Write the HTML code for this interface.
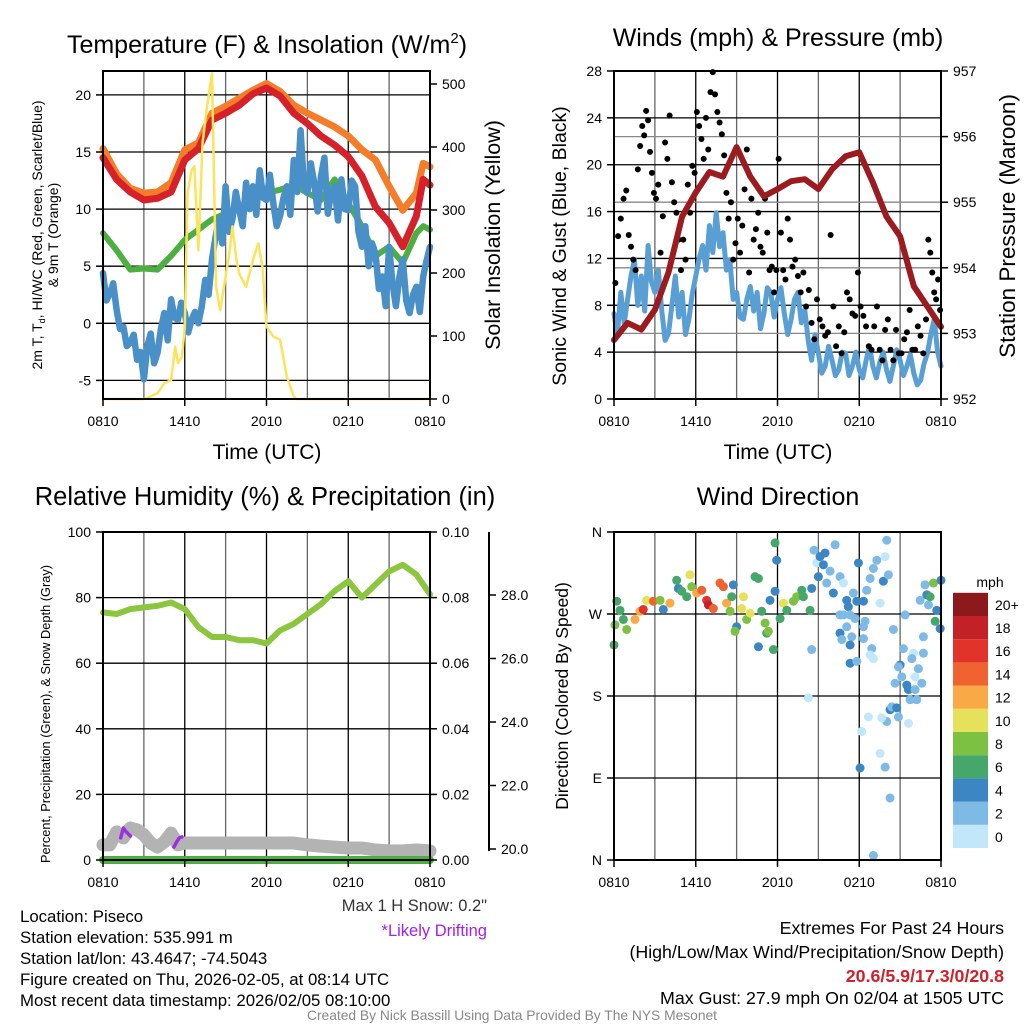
<!DOCTYPE html>
<html><head><meta charset="utf-8"><style>
html,body{margin:0;padding:0;background:#fff;}
svg{display:block;font-family:"Liberation Sans",Arial,sans-serif;}
</style></head><body>
<svg id="chart" width="1024" height="1024" viewBox="0 0 1024 1024" xmlns="http://www.w3.org/2000/svg">
<rect x="0" y="0" width="1024" height="1024" fill="#fff"/>
<g id="layer-grid"></g>
<g id="layer-data"></g>
<g id="layer-axes"></g>
<!-- titles -->
<text x="267" y="53" font-size="25" text-anchor="middle">Temperature (F) &amp; Insolation (W/m<tspan font-size="15" dy="-10">2</tspan><tspan dy="10">)</tspan></text>
<text x="778" y="46" font-size="25" text-anchor="middle">Winds (mph) &amp; Pressure (mb)</text>
<text x="265" y="505" font-size="25.5" text-anchor="middle">Relative Humidity (%) &amp; Precipitation (in)</text>
<text x="778" y="505" font-size="25" text-anchor="middle">Wind Direction</text>
<!-- axis titles -->
<text transform="translate(42,235) rotate(-90)" font-size="14" text-anchor="middle">2m T, T<tspan font-size="9" dy="3">d</tspan><tspan dy="-3">, HI/WC (Red, Green, Scarlet/Blue)</tspan></text>
<text transform="translate(58,235) rotate(-90)" font-size="14" text-anchor="middle">&amp; 9m T (Orange)</text>
<text transform="translate(500,235) rotate(-90)" font-size="21.5" text-anchor="middle">Solar Insolation (Yellow)</text>
<text x="267" y="459" font-size="21" text-anchor="middle">Time (UTC)</text>
<text transform="translate(566,246) rotate(-90)" font-size="19.5" text-anchor="middle">Sonic Wind &amp; Gust (Blue, Black)</text>
<text transform="translate(1015,226) rotate(-90)" font-size="22.5" text-anchor="middle">Station Pressure (Maroon)</text>
<text x="778" y="459" font-size="21" text-anchor="middle">Time (UTC)</text>
<text transform="translate(50,714) rotate(-90)" font-size="12.8" text-anchor="middle">Percent, Precipitation (Green), &amp; Snow Depth (Gray)</text>
<text transform="translate(568,696) rotate(-90)" font-size="17.5" text-anchor="middle">Direction (Colored By Speed)</text>
<text x="990" y="587" font-size="14" text-anchor="middle">mph</text>
<!-- info text -->
<g font-size="16.8">
<text x="20" y="922">Location: Piseco</text>
<text x="20" y="943">Station elevation: 535.991 m</text>
<text x="20" y="964">Station lat/lon: 43.4647; -74.5043</text>
<text x="20" y="985">Figure created on Thu, 2026-02-05, at 08:14 UTC</text>
<text x="20" y="1006">Most recent data timestamp: 2026/02/05 08:10:00</text>
</g>
<text x="487" y="911" font-size="16.5" text-anchor="end" fill="#333">Max 1 H Snow: 0.2"</text>
<text x="487" y="936" font-size="16.5" text-anchor="end" fill="#a020f0">*Likely Drifting</text>
<g font-size="17.8" text-anchor="end">
<text x="1004" y="934">Extremes For Past 24 Hours</text>
<text x="1004" y="958">(High/Low/Max Wind/Precipitation/Snow Depth)</text>
<text x="1004" y="982" fill="#d0202a" font-weight="bold">20.6/5.9/17.3/0/20.8</text>
<text x="1004" y="1004">Max Gust: 27.9 mph On 02/04 at 1505 UTC</text>
</g>
<text x="512" y="1020" font-size="13.8" text-anchor="middle" fill="#888">Created By Nick Bassill Using Data Provided By The NYS Mesonet</text>
</svg>
<script>
// ---------- DATA ----------
const xTickLabels = ["0810","1410","2010","0210","0810"];
const tempTimes = [0,1,2,3,4,5,6,7,8,9,10,11,12,13,14,15,16,17,18,19,20,21,22,23,23.5,24];
const temp2m = [14.5,12.6,11.5,10.8,10.95,11.5,14.3,15.3,17.8,18.4,19.1,20.1,20.6,19.9,18.4,17.5,16.4,15.6,14.6,12.9,10.2,8.8,6.7,9.4,12.6,12.1];
const temp9m = [15.3,13.1,11.8,11.4,11.5,12.3,15.2,15.8,18.4,19,19.7,20.4,21,20.3,19.1,18.4,17.8,17.2,16.4,15.2,14.3,12,9.9,11.4,14,13.7];
const heatWind = [7.9,6.4,4.7,4.8,4.7,5.9,7.3,8.2,9.1,9.6,10.2,10.8,11.4,11.7,12.1,11.4,10.8,12.6,10.5,8.5,5.9,6.7,5.3,7.9,8.5,8.2];
const dewpoint = [4.4,2.0,2.6,3.5,1.2,-0.5,-0.3,-2.0,-1.7,-1.0,-3.2,-2.5,-4.9,-2.0,-0.9,-3.5,-2.6,-0.5,0.9,-1.5,2.1,0.5,0.3,1.8,0.9,-0.8,0.3,1.0,0,1.5,3.8,2.5,5.6,7.5,9.1,7.0,12,8.0,9.1,11.5,9.9,8.5,12.3,10.0,12,9.5,13.4,11.0,10.8,13.0,10.5,8.5,9.4,11.0,12,9.5,14.3,11.5,16.9,12.0,11.4,14.0,12.3,9.8,12.9,14.5,9.6,11.5,12,9.0,12.6,10.0,9.9,12.5,12,8.0,6.7,8.5,5,7.0,6.1,3.0,4.1,1.5,6.7,3.5,1.5,4.0,5.6,2.0,0.9,2.5,3.2,1.0,4.1,5.5,6.7];
const solarTimes = [0,3,3.5,4,4.5,5,5.3,5.5,5.8,6,6.2,6.5,6.7,7,7.3,7.6,8,8.3,8.6,9,9.3,9.5,9.8,10,10.5,11,11.4,11.7,12,12.5,13,13.5,14,14.2,24];
const solar = [0,0,4,9,25,30,83,57,67,115,326,363,369,236,406,459,517,178,141,194,236,274,220,199,178,220,247,210,115,99,94,35,4,0,0];
const tempTicks = [-5,0,5,10,15,20];
const solarTicks = [0,100,200,300,400,500];

const windSpeed = [7.3,5.5,9.1,6.5,8.5,10.5,11.9,8.0,10.5,7.5,13.1,10.0,9.1,11.0,7.6,5.0,5.6,8.0,10.5,7.0,9.1,5.5,6.8,9.0,10.5,12.0,13.1,11.0,14.8,12.5,15.9,13.0,14.2,11.0,11.9,8.5,9.1,7.0,6.8,8.5,9.6,7.5,9.1,6.0,7.3,9.5,9.1,7.0,8.5,9.5,7.3,5.5,6.8,8.5,9.1,6.5,7.6,5.0,3.3,5.5,3.9,2.2,2.8,4.5,3.3,2.0,2.5,4.0,3.9,2.0,2.8,4.0,2.5,1.8,3.3,4.5,2.8,1.8,3.1,4.0,2.5,1.5,2.8,4.2,3.3,2.0,2.8,3.8,2.2,1.2,1.6,3.0,3.9,5.5,6.8,4.0,2.8];
const pressureTimes = [0,1,2,3,4,5,6,7,8,9,10,11,12,13,14,15,16,17,18,19,20,21,22,23,24];
const pressure = [952.90,953.16,953.06,953.36,953.93,954.78,955.15,955.46,955.39,955.84,955.39,955.09,955.20,955.32,955.35,955.20,955.50,955.70,955.76,955.30,954.78,954.48,953.72,953.41,953.10];
const gustByHour = [
 [9.9,13.9,15.4,17.1,17.8],[14,13,11.9,11,19.6,21.6],[23.3,22.5,24.6,23.8,21.1,19.3,17.6],[17.1,18.3,12.5,15.6,21.9,20.5],
 [24.2,18.5,16.8,15.9,13.6,11],[13.6,11.9,18.3,15.9,19.9,19.3],[24.5,23.3,22.2,20.5,24,21.3],[26.2,27.9,26,24.5,23.6,22.6],
 [20.8,17.6,15.4,16.8,11.9,13.3],[15.4,12.5,14.8,17.9,21.3,10.8],[17.1,13.6,14.5,15.9,13,12.5],[17.1,14.2,11,11.3,9.1,11],
 [20.5,14.2,11,10.2,15.4,13.6],[11.3,11.9,10.5,9.1,10.8],[7.9,9.3,6.5,5.1,8.5],[6.8,6.2,5.4,5.7,14],
 [7.9,4.5,6.2,3.9,5.7],[9.1,8.5,7.3,7.1,10.8],[7.9,7.1,6.2,4.5,4.2],[6.2,7.9,4.2,3.3,5.9],
 [6.8,4.2,3.3,5.9,3.9],[3.9,5.1,5.7,7.6,4.2],[4.2,6.2,5.4,3.9,6.8],[13.6,12.5,10.8,9.1,8.5,10.2,7.6]];
const windTicks = [0,4,8,12,16,20,24,28];
const pressureTicks = [952,953,954,955,956,957];

const rhTimes = [0,1,2,3,4,5,6,7,8,9,10,11,12,13,14,15,16,17,18,19,20,21,22,23,24];
const rh = [75.5,75,76.5,77,77.5,78.5,76.5,71,68,68,67,67,66,70,72,75,78,82,85,80,84,88,90,87,81];
const precip = [0,0,0,0,0,0,0,0,0,0,0,0,0,0,0,0,0,0,0,0,0,0,0,0,0];
const snowTimes = [0,0.5,1,1.5,2,2.5,3,3.5,4,4.5,5,5.5,6,8,10,12,14,15,16,17,18,19,20,21,22,23,24];
const snowDepth = [20.13,20.13,20.54,20.35,20.66,20.6,20.44,20.19,20.06,20.22,20.5,20.13,20.19,20.19,20.19,20.19,20.19,20.13,20.09,20.06,20.03,20.03,19.97,19.94,19.94,19.97,19.94];
const drift1Times = [1.3,1.5,1.7,2.0];
const drift1 = [20.35,20.66,20.54,20.41];
const drift2Times = [5.2,5.4,5.6,5.8];
const drift2 = [20.06,20.22,20.35,20.38];
const rhTicks = [0,20,40,60,80,100];
const precipTicks = ["0.00","0.02","0.04","0.06","0.08","0.10"];
const snowTicks = [20,22,24,26,28];

const dirTimes = [0.2,0.44,0.07,0,0.69,0.93,1.54,1.91,2.15,2.4,2.89,3.38,3.62,4.11,4.6,4.72,4.97,5.34,5.58,5.7,6.07,6.44,6.8,6.93,7.29,7.78,8.03,8.27,8.52,8.76,8.64,9.5,9.37,9.0,8.88,9.74,9.99,10.35,10.6,10.84,11.09,11.21,11.33,11.7,10.6,11.82,11.94,11.82,11.45,12.43,12.19,12.68,13.17,13.41,13.78,13.9,14.39,14.51,14.68,14.88,15.0,15.12,15.37,15.49,15.86,15.61,16.1,16.23,16.59,16.84,16.59,17.08,17.2,17.33,17.57,17.82,17.94,18.31,18.43,18.55,18.8,19.04,19.29,19.53,19.77,19.9,20.02,20.14,14.51,16.59,16.72,17.45,17.33,17.33,17.82,18.31,18.92,18.8,19.04,20.51,21.37,21.24,21.0,20.88,20.63,21.12,21.49,21.61,22.1,22.22,21.73,21.98,21.86,22.34,22.1,22.71,22.59,22.71,22.47,22.83,22.96,23.08,23.2,23.45,23.69,24,23.57,23.94,20.26,20.39,20.75,20.88,20.02,19.65,18.67,18.18,21.61,19.53,19.9,18.06,20.26,19.04,14.27,16.84,17.69,17.08,18.31];
const directions = [284,274,258,236,264,253,264,273,275,285,284,285,275,282,307,298,295,289,313,300,293,296,285,280,276,304,300,282,273,302,289,289,276,256,251,264,271,311,309,273,260,249,251,231,234,348,329,295,285,282,265,274,284,289,296,289,274,298,340,326,311,333,324,337,317,304,293,346,311,304,269,285,278,269,293,284,326,284,262,296,309,320,329,282,306,333,351,313,231,249,242,245,236,216,218,243,232,225,221,253,269,232,214,212,194,201,192,187,187,176,176,227,221,210,201,227,194,245,285,302,291,280,289,304,274,307,262,254,165,168,167,157,152,156,157,141,150,117,102,101,68,5,178,269,265,256,256];
const dirSpeeds = [6,6,8,6,6,8,12,12,16,10,14,8,4,12,6,4,6,6,10,8,12,14,16,18,14,14,14,12,8,4,6,10,10,4,8,8,10,6,6,6,8,6,8,6,4,6,4,4,4,10,6,6,8,8,6,6,6,4,2,0,4,4,4,4,2,2,4,2,2,0,2,4,4,2,2,4,4,4,2,2,2,2,2,0,4,0,2,2,2,4,2,2,4,4,2,2,2,0,0,2,2,2,4,2,2,2,4,4,2,2,2,0,2,2,0,2,2,2,2,2,4,2,6,8,4,4,6,4,4,2,4,2,2,0,0,0,0,0,2,4,2,2,0,2,2,2,2];
const dirTickLabels = ["N","E","S","W","N"];
const dirTickValues = [0,90,180,270,360];
const colorbarLabels = ["0","2","4","6","8","10","12","14","16","18","20+"];
const speedColors = ["#c3e7fa","#7dbae5","#3b86c3","#45a769","#7cc142","#e6e15b","#f9a945","#ef6330","#e2332a","#c32128","#8c1a1c"];

// ---------- AXIS FUNCTIONS ----------
const L1=103,R1=430,L2=614,R2=941,T1=71,B1=399,T3=532,B3=860;
const x1 = h => L1 + h*(R1-L1)/24;
const x2 = h => L2 + h*(R2-L2)/24;
const yT = v => 323.3 - v*11.42;
const yI = w => B1 - w*0.63;
const yW = s => B1 - s*(B1-T1)/28;
const yP = p => B1 - (p-952)*(B1-T1)/5;
const yRH = v => B3 - v*(B3-T3)/100;
const yPr = v => B3 - v*(B3-T3)/0.1;
const ySn = v => 849 - (v-20)*31.75;
const yD = d => B3 - d*(B3-T3)/360;
const evenTimes = arr => arr.map((_,i)=>i*24/(arr.length-1));

const NS="http://www.w3.org/2000/svg";
const gGrid=document.getElementById('layer-grid');
const gData=document.getElementById('layer-data');
const gAx=document.getElementById('layer-axes');
function mk(tag, attrs, parent){const e=document.createElementNS(NS,tag);for(const k in attrs)e.setAttribute(k,attrs[k]);parent.appendChild(e);return e;}
function pts(ts, vs, fx, fy){return ts.map((t,i)=>fx(t).toFixed(1)+","+fy(vs[i]).toFixed(1)).join(" ");}

// ---------- GRIDS ----------
const panels=[[L1,R1,T1,B1,x1],[L2,R2,T1,B1,x2],[L1,R1,T3,B3,x1],[L2,R2,T3,B3,x2]];
panels.forEach((p,pi)=>{
  for(let h=3;h<24;h+=3){
    const ln=mk('line',{x1:p[4](h),x2:p[4](h),y1:p[2],y2:p[3],stroke:(h%6===0)?'#000':'#666','stroke-width':1.3},gGrid);
    
    
  }
});
function hgrid(L,R,ys,col){ys.forEach(y=>{
  const ln=mk('line',{x1:L,x2:R,y1:y,y2:y,stroke:col,'stroke-width':1.3},gGrid);
  
  
});}
hgrid(L1,R1,tempTicks.map(yT),'#000');
hgrid(L2,R2,windTicks.map(yW),'#000');
hgrid(L2,R2,pressureTicks.map(yP),'#888');
hgrid(L1,R1,rhTicks.map(yRH),'#000');
hgrid(L2,R2,dirTickValues.map(yD),'#000');

// ---------- PANEL 1 SERIES ----------
function line(ts,vs,fx,fy,col,w){
  return mk('polyline',{points:pts(ts,vs,fx,fy),fill:'none',stroke:col,'stroke-width':w,'stroke-linejoin':'round','stroke-linecap':'round'},gData);
}
let s;
s=line(tempTimes,heatWind,x1,yT,'#4caf3f',6);


s=line(evenTimes(dewpoint),dewpoint,x1,yT,'#4a90c8',6.5);


s=line(tempTimes,temp9m,x1,yT,'#f47d2a',7);


s=line(tempTimes,temp2m,x1,yT,'#d6202a',7);


s=line(solarTimes,solar,x1,yI,'#fde35a',2.5);



// ---------- PANEL 2 SERIES ----------
s=line(evenTimes(windSpeed),windSpeed,x2,yW,'#5a9fd4',5);


gustByHour.forEach((arr,h)=>{arr.forEach((g,i)=>{
  const t=h+(i+0.5)/arr.length;
  const c=mk('circle',{cx:x2(t),cy:yW(g),r:3,fill:'#000'},gData);
  
  
});});
s=line(pressureTimes,pressure,x2,yP,'#9b1b1f',6);



// ---------- PANEL 3 SERIES ----------
s=line(rhTimes,rh,x1,yRH,'#8cc63f',6);


s=line(snowTimes,snowDepth,x1,ySn,'#b3b3b3',13);


s=line(rhTimes,precip,x1,yPr,'#4caf3f',8);


s=line(drift1Times,drift1,x1,ySn,'#9b30e0',3.5);


s=line(drift2Times,drift2,x1,ySn,'#9b30e0',3.5);



// ---------- PANEL 4 SERIES ----------
dirTimes.forEach((t,i)=>{
  const idx=Math.min(10,Math.max(0,Math.floor(dirSpeeds[i]/2)));
  const c=mk('circle',{cx:x2(t),cy:yD(directions[i]),r:4.5,fill:speedColors[idx]},gData);
  
  
});
colorbarLabels.forEach((lab,i)=>{
  const y=848-(i+1)*23.2;
  const r=mk('rect',{x:953,y:y,width:35,height:23.2,fill:speedColors[i]},gAx);
  
  
  const tx=mk('text',{x:995,y:y+17,'font-size':14},gAx);
  tx.textContent=lab;
  
  
});

// ---------- FRAMES & TICKS ----------
panels.forEach(p=>{
  const r=mk('rect',{x:p[0],y:p[2],width:p[1]-p[0],height:p[3]-p[2],fill:'none',stroke:'#000','stroke-width':2},gAx);
  
  
  xTickLabels.forEach((lab,i)=>{
    const x=p[4](i*6);
    const t=mk('line',{x1:x,x2:x,y1:p[3],y2:p[3]+7,stroke:'#000','stroke-width':1.5},gAx);
    
    
    const tx=mk('text',{x:x,y:p[3]+27,'font-size':14,'text-anchor':'middle'},gAx);
    tx.textContent=lab;
    
    
  });
});
function yticks(vals,labels,f,x,side,fs){
  vals.forEach((v,i)=>{
    const y=f(v);
    const t=mk('line',{x1:x,x2:x+side*7,y1:y,y2:y,stroke:'#000','stroke-width':1.5},gAx);
    
    
    const tx=mk('text',{x:x+side*12,y:y+5,'font-size':fs||14,'text-anchor':side<0?'end':'start'},gAx);
    tx.textContent=labels[i];
    
    
  });
}
yticks(tempTicks,tempTicks,yT,L1,-1);
yticks(solarTicks,solarTicks,yI,R1,1);
yticks(windTicks,windTicks,yW,L2,-1);
yticks(pressureTicks,pressureTicks,yP,R2,1);
yticks(rhTicks,rhTicks,yRH,L1,-1);
yticks([0,0.02,0.04,0.06,0.08,0.1],precipTicks,yPr,R1,1);
yticks(dirTickValues,dirTickLabels,yD,L2,-1);
const sa=mk('line',{x1:489,x2:489,y1:532,y2:851,stroke:'#000','stroke-width':2},gAx);


yticks(snowTicks,snowTicks.map(v=>v.toFixed(1)),ySn,489,1);
</script>
</body></html>
